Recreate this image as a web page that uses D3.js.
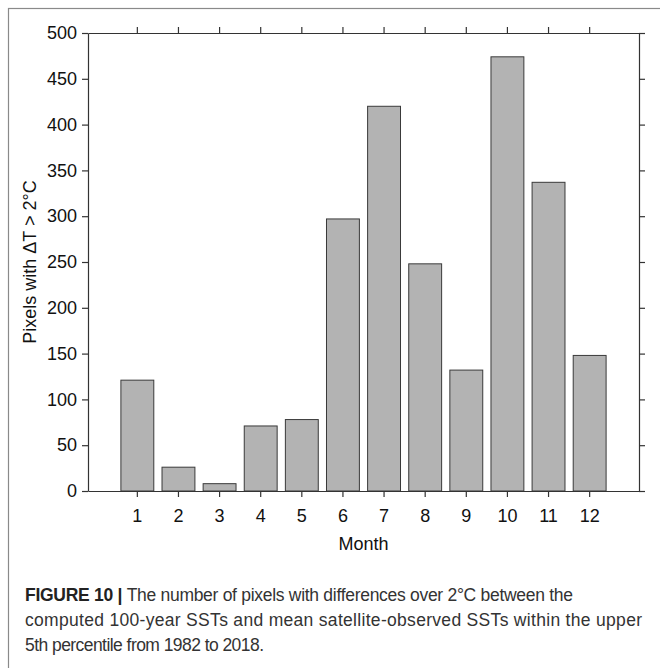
<!DOCTYPE html>
<html>
<head>
<meta charset="utf-8">
<script src="https://cdn.jsdelivr.net/npm/d3@7"></script>
<style>
	body { margin: 0; background: #fff; }
	text { font-family: "Liberation Sans", Arial, sans-serif; }
</style>
</head>
<body>
<div id="chart-area"></div>
<script>
// monthly counts of pixels with dT > 2 C
var months = ["1","2","3","4","5","6","7","8","9","10","11","12"];
var pixelCounts = [121, 26, 8, 71, 78, 297, 420, 248, 132, 474, 337, 148];
var yTicks = [0, 50, 100, 150, 200, 250, 300, 350, 400, 450, 500];

var captionLines = [
	"The number of pixels with differences over 2°C between the",
	"computed 100-year SSTs and mean satellite-observed SSTs within the upper",
	"5th percentile from 1982 to 2018."
];
var captionWidths = [548, 617, 239];

var margin = {left:88, right:21, top:33, bottom:177};
var width = 660 - margin.left - margin.right,
	height = 668 - margin.top - margin.bottom;

var svg = d3.select("#chart-area")
	.append("svg")
		.attr("width", 660)
		.attr("height", 668);

// frame around the figure (runs off the page right and bottom)
svg.append("rect")
	.attr("x", 8.5)
	.attr("y", 8.5)
	.attr("width", 700)
	.attr("height", 700)
	.attr("fill", "none")
	.attr("stroke", "#8a8a8a")
	.attr("stroke-width", 1.2);

var canvas = svg.append("g")
	.attr("transform", "translate(" + margin.left + ", " + margin.top + ")");

//scales
var x = d3.scaleBand()
	.domain(months)
	.range([0, width])
	.paddingInner(0.2)
	.paddingOuter(0.8);

var y = d3.scaleLinear()
	.domain([0, 500])
	.range([height, 0]);

//bars
canvas.selectAll("rect.bar")
	.data(pixelCounts)
	.enter()
	.append("rect")
		.attr("class", "bar")
		.attr("x", function(d, i){ return x(months[i]); })
		.attr("y", function(d){ return y(d); })
		.attr("width", x.bandwidth())
		.attr("height", function(d){ return height - y(d); })
		.attr("fill", "#b3b3b3")
		.attr("stroke", "#3a3a3a")
		.attr("stroke-width", 1);

//axes
var axisColor = "#333";

var xBottom = canvas.append("g")
	.attr("transform", "translate(0, " + height + ")")
	.call(d3.axisBottom(x).tickSize(6).tickPadding(12).tickSizeOuter(0));

var xTop = canvas.append("g")
	.call(d3.axisTop(x).tickSize(6).tickSizeOuter(0).tickFormat(""));

var yLeft = canvas.append("g")
	.call(d3.axisLeft(y).tickValues(yTicks).tickSize(6).tickPadding(5).tickSizeOuter(0));

var yRight = canvas.append("g")
	.attr("transform", "translate(" + width + ", 0)")
	.call(d3.axisRight(y).tickValues(yTicks).tickSize(6).tickSizeOuter(0).tickFormat(""));

[xBottom, xTop, yLeft, yRight].forEach(function(g){
	g.selectAll("path, line").attr("stroke", axisColor).attr("stroke-width", 1.2);
	g.selectAll("text")
		.attr("fill", "#111")
		.attr("font-size", "18px")
		.attr("font-family", "'Liberation Sans', Arial, sans-serif");
});

//labels
canvas.append("text")
	.attr("x", width / 2)
	.attr("y", height + 59)
	.attr("text-anchor", "middle")
	.attr("font-size", "18px")
	.attr("fill", "#111")
	.text("Month");

canvas.append("text")
	.attr("transform", "translate(-52, " + (height / 2) + ") rotate(-90)")
	.attr("text-anchor", "middle")
	.attr("font-size", "18px")
	.attr("fill", "#111")
	.text("Pixels with \u0394T > 2\u00b0C");

//caption
var caption = svg.append("g")
	.attr("transform", "translate(25, 601)");

captionLines.forEach(function(line, i){
	var t = caption.append("text")
		.attr("y", i * 25)
		.attr("font-size", "17.5px")
		.attr("fill", "#333")
		.attr("textLength", captionWidths[i])
		.attr("lengthAdjust", "spacing");
	if (i == 0) {
		t.append("tspan")
			.attr("font-weight", "bold")
			.attr("fill", "#222")
			.text("FIGURE 10 | ");
	}
	t.append("tspan").text(line);
});
</script>
</body>
</html>
